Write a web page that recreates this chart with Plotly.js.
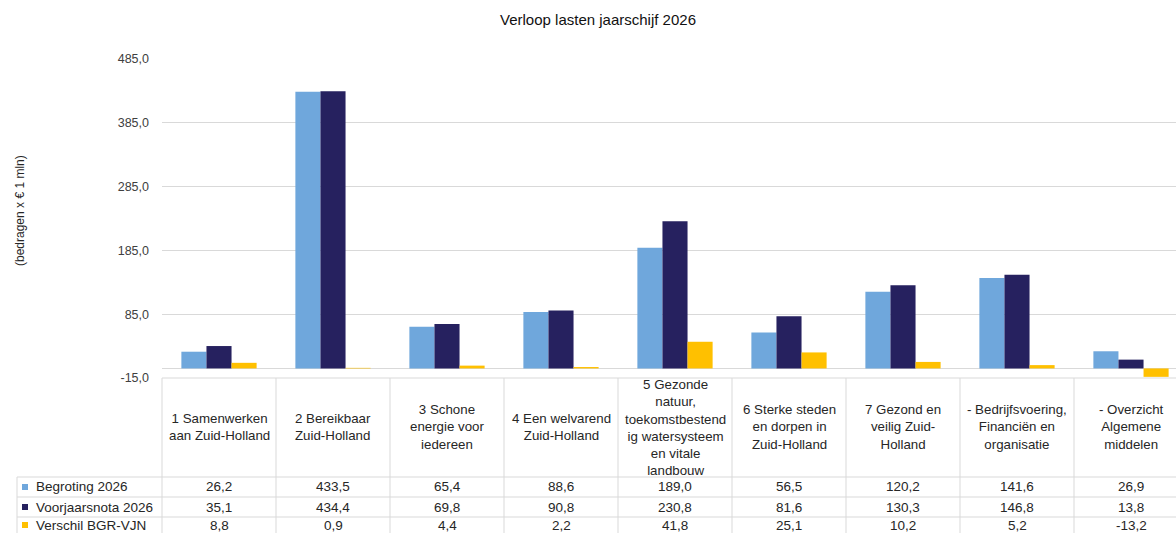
<!DOCTYPE html>
<html>
<head>
<meta charset="utf-8">
<script src="https://cdn.plot.ly/plotly-3.0.1.min.js"></script>
<style>html,body{margin:0;padding:0;background:#fff;}#chart{width:1176px;height:533px;}</style>
</head>
<body>
<div id="chart"></div>
<script>
const categories = [
  "1 Samenwerken<br>aan Zuid-Holland",
  "2 Bereikbaar<br>Zuid-Holland",
  "3 Schone<br>energie voor<br>iedereen",
  "4 Een welvarend<br>Zuid-Holland",
  "5 Gezonde<br>natuur,<br>toekomstbestend<br>ig watersysteem<br>en vitale<br>landbouw",
  "6 Sterke steden<br>en dorpen in<br>Zuid-Holland",
  "7 Gezond en<br>veilig Zuid-<br>Holland",
  "- Bedrijfsvoering,<br>Financiën en<br>organisatie",
  "- Overzicht<br>Algemene<br>middelen"
];
const begroting = [26.2, 433.5, 65.4, 88.6, 189.0, 56.5, 120.2, 141.6, 26.9];
const voorjaarsnota = [35.1, 434.4, 69.8, 90.8, 230.8, 81.6, 130.3, 146.8, 13.8];
const verschil = [8.8, 0.9, 4.4, 2.2, 41.8, 25.1, 10.2, 5.2, -13.2];
const seriesNames = ["Begroting 2026", "Voorjaarsnota 2026", "Verschil BGR-VJN"];
const seriesColors = ["#6fa7dc", "#26215f", "#ffc000"];
const seriesData = [begroting, voorjaarsnota, verschil];
const yTickValues = [-15, 85, 185, 285, 385, 485];
const titleText = "Verloop lasten jaarschijf 2026";
const yTitle = "(bedragen x € 1 mln)";

const W = 1176, H = 533;
const mL = 162, mR = 0, mT = 59, mB = 155;
const plotW = W - mL - mR, plotH = H - mT - mB;
const colW = 114;
const px = x => (x - mL) / plotW;
const py = y => (H - mB - y) / plotH;
const fmt = v => v.toFixed(1).replace('.', ',');

const idx = categories.map((c, i) => i);
const traces = seriesData.map((d, s) => ({
  type: 'bar', x: idx, y: d, name: seriesNames[s],
  marker: {color: seriesColors[s], line: {width: 0}},
  hoverinfo: 'none'
}));

const lineColor = '#d9d9d9';
const shapes = [];
const annotations = [];
const font = {family: 'Liberation Sans, Arial, sans-serif', color: '#262626'};
// table top line
shapes.push({type:'line', xref:'paper', yref:'paper', x0:0, x1:1, y0:0, y1:0, line:{color:lineColor, width:1}});
// vertical column lines
for (let i = 0; i <= categories.length; i++) {
  const xp = px(mL + i * colW);
  if (xp > 1.001) break;
  shapes.push({type:'line', xref:'paper', yref:'paper', x0:xp, x1:xp, y0:0, y1:py(H), line:{color:lineColor, width:1}});
}
// row lines and legend box
const rowTop = 477, rowH = 20;
for (let r = 0; r < 3; r++) {
  const y = rowTop + r * rowH;
  shapes.push({type:'line', xref:'paper', yref:'paper', x0:px(17), x1:1, y0:py(y), y1:py(y), line:{color:lineColor, width:1}});
}
shapes.push({type:'line', xref:'paper', yref:'paper', x0:px(17), x1:px(17), y0:py(rowTop), y1:py(H), line:{color:lineColor, width:1}});
// legend markers + row labels + values
for (let s = 0; s < 3; s++) {
  const yc = rowTop + rowH * s + 10 - (s === 2 ? 2 : 0);
  shapes.push({type:'rect', xref:'paper', yref:'paper', x0:px(22), x1:px(28), y0:py(yc - 3), y1:py(yc + 3), fillcolor:seriesColors[s], line:{width:0}});
  annotations.push({xref:'paper', yref:'paper', x:px(34), y:py(yc), xanchor:'left', yanchor:'middle', text:seriesNames[s], showarrow:false, font:{...font, size:13.5}});
  seriesData[s].forEach((v, i) => {
    annotations.push({xref:'x', yref:'paper', x:i, y:py(yc), xanchor:'center', yanchor:'middle', text:fmt(v), showarrow:false, font:{...font, size:13.5}});
  });
}
// category labels
categories.forEach((c, i) => {
  annotations.push({xref:'x', yref:'paper', x:i, y:py(427), xanchor:'center', yanchor:'middle', text:c, showarrow:false, font:{...font, size:13.3}});
});
// y axis title
annotations.push({xref:'paper', yref:'paper', x:px(20), y:py(211), xanchor:'center', yanchor:'middle', text:yTitle, textangle:-90, showarrow:false, font:{...font, size:12}});

const layout = {
  width: W, height: H,
  margin: {l: mL, r: mR, t: mT, b: mB, pad: 0},
  paper_bgcolor: '#fff', plot_bgcolor: '#fff',
  title: {text: titleText, x: 598 / W, xref: 'container', xanchor: 'center', y: 1 - 20 / H, yref: 'container', yanchor: 'middle', font: {family: 'Liberation Sans, Arial, sans-serif', size: 15, color: '#111'}},
  showlegend: false,
  barmode: 'group', bargap: 0.34, bargroupgap: 0,
  xaxis: {range: [-0.5, -0.5 + plotW / colW], showticklabels: false, showgrid: false, zeroline: false, showline: false, ticks: '', fixedrange: true},
  yaxis: {range: [-15, 485], tickmode: 'array', tickvals: yTickValues, ticktext: yTickValues.map(fmt), showgrid: true, gridcolor: lineColor, gridwidth: 1,
          zeroline: true, zerolinecolor: lineColor, zerolinewidth: 1, showline: false, ticks: '',
          tickfont: {family: 'Liberation Sans, Arial, sans-serif', size: 12.5, color: '#404040'}, ticklabelstandoff: 12, fixedrange: true},
  shapes: shapes,
  annotations: annotations
};
Plotly.newPlot('chart', traces, layout, {displayModeBar: false, staticPlot: true});
</script>
</body>
</html>
